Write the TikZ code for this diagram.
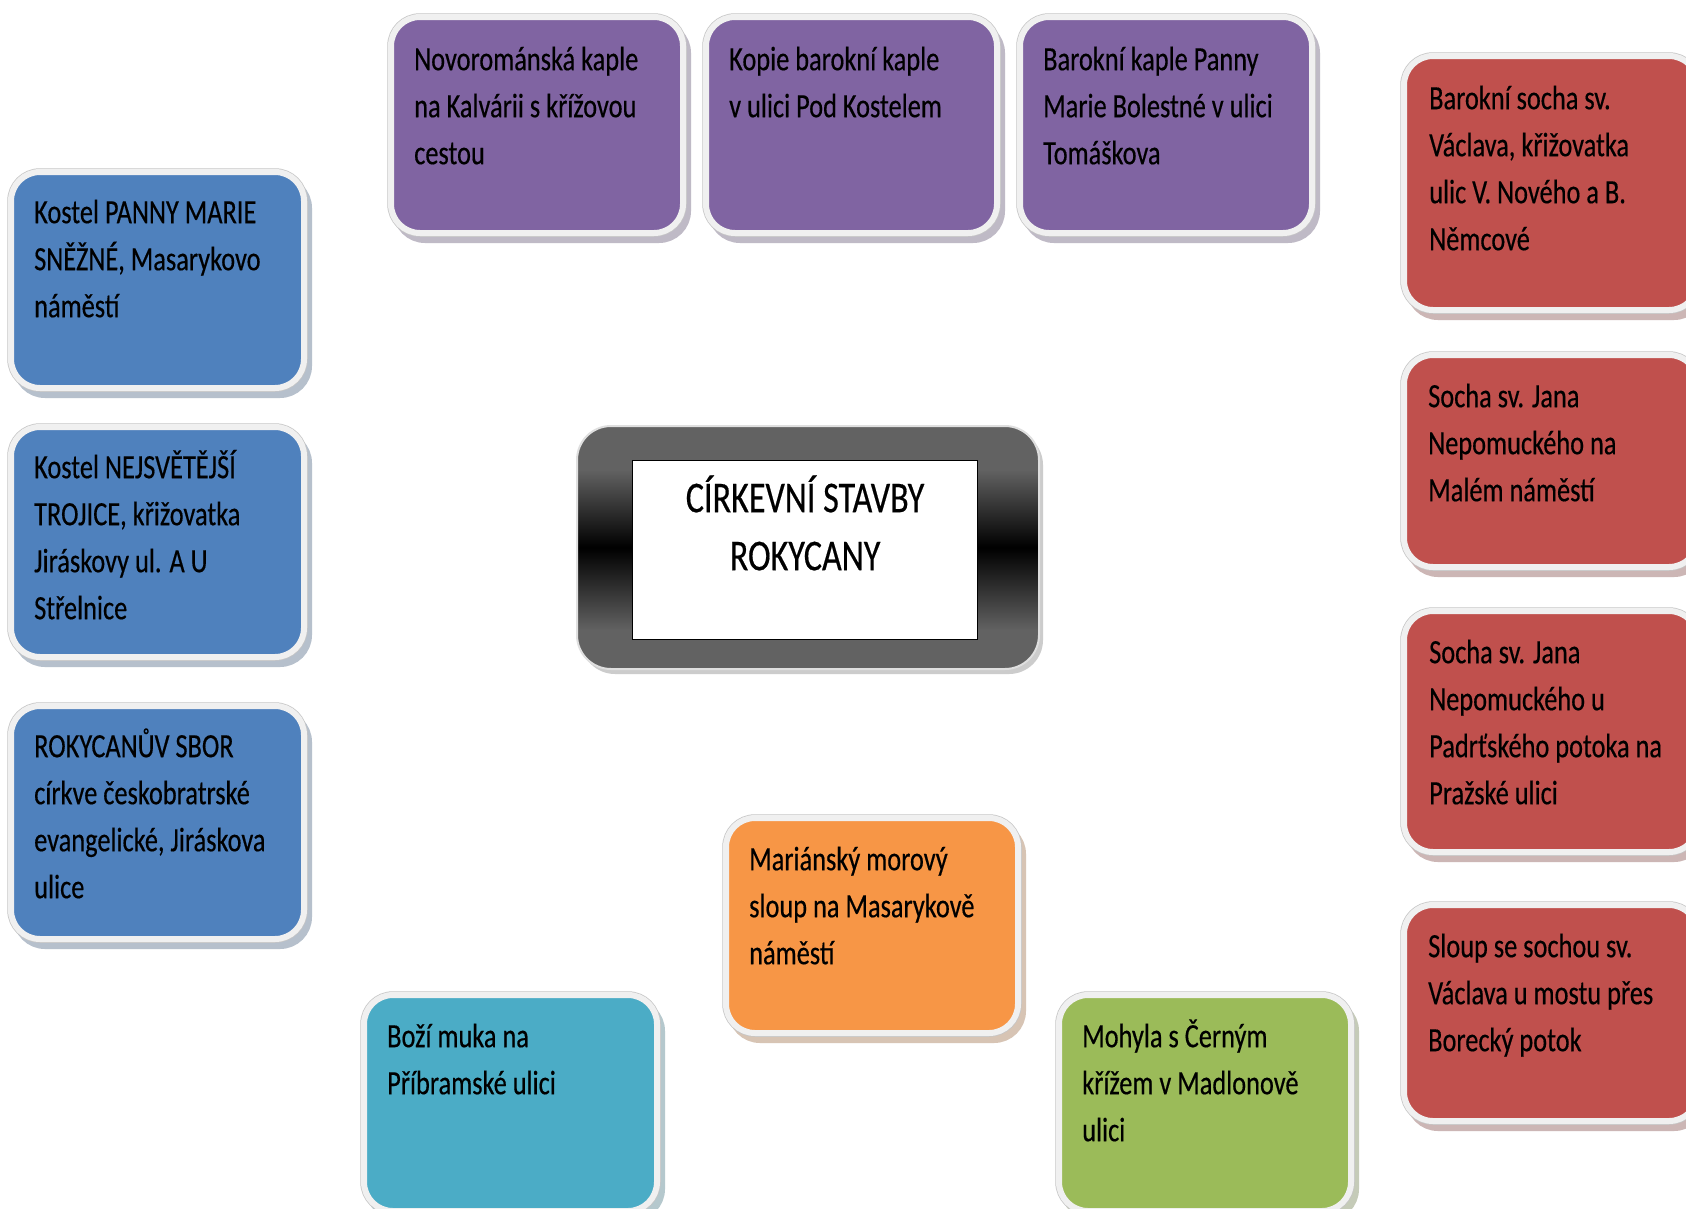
\documentclass[tikz,border=0pt]{standalone}
\usepackage{fontspec}
\setmainfont{Carlito}[FakeStretch=0.775, FakeBold=0.4]
\usetikzlibrary{calc}
\definecolor{bluec}{RGB}{79,129,189}
\definecolor{purc}{RGB}{128,100,162}
\definecolor{redc}{RGB}{192,80,77}
\definecolor{orac}{RGB}{247,150,70}
\definecolor{cyac}{RGB}{75,172,198}
\definecolor{grec}{RGB}{155,187,89}
\definecolor{ringc}{RGB}{240,240,240}
\definecolor{cg}{RGB}{98,98,98}
\pgfdeclareverticalshading{cgrad}{100bp}{color(0bp)=(cg); color(33bp)=(cg); color(50bp)=(black); color(66bp)=(cg); color(100bp)=(cg)}
\tikzset{
  boxbase/.style={rectangle, rounded corners=29pt, anchor=north west, inner sep=0pt,
    preaction={fill=#1!40!gray!50!white, draw=#1!40!gray!50!white, line width=6pt,
               transform canvas={shift={(5,7)}}},
    preaction={draw=gray!45, line width=7.5pt},
    fill=#1, draw=ringc, line width=6pt},
  txt/.style={anchor=north west, align=left, inner sep=0pt, text=black,
    font=\fontsize{34}{47}\selectfont},
  centerbox/.style={rectangle, rounded corners=34pt, anchor=north west, inner sep=0pt,
    preaction={fill=gray!40, transform canvas={shift={(4,5)}}},
    shade, shading=cgrad, draw=gray!25, line width=2pt},
  titlebox/.style={rectangle, anchor=north west, inner sep=0pt, fill=white, draw=black, line width=1.2pt},
  ctxt/.style={anchor=north, align=center, inner sep=0pt, text=black,
    font=\fontsize{44}{58}\selectfont}
}
\begin{document}
\begin{tikzpicture}[x=1pt,y=-1pt]
\useasboundingbox (0,0) rectangle (1686,1208);
\clip (0,0) rectangle (1686,1208);
\fill[white] (0,0) rectangle (1686,1208);

% centre
\node[centerbox, minimum width=462pt, minimum height=243pt] (ctr) at (576,425) {};
\node[titlebox, minimum width=345pt, minimum height=179pt] (ctitle) at (632,460) {};
\node[ctxt] (ctitletext) at ($(ctitle.north)+(0,14)$) {\rule{0pt}{38pt}CÍRKEVNÍ STAVBY\\ROKYCANY};

% blue column
\node[boxbase=bluec, minimum width=293pt, minimum height=216pt] (b1) at (8,169) {};
\node[txt] (b1t) at ($(b1.north west)+(26,23)$) {\rule{0pt}{31pt}Kostel PANNY MARIE\\SNĚŽNÉ, Masarykovo\\náměstí};
\node[boxbase=bluec, minimum width=293pt, minimum height=230pt] (b2) at (8,424) {};
\node[txt] (b2t) at ($(b2.north west)+(26,23)$) {\rule{0pt}{31pt}Kostel NEJSVĚTĚJŠÍ\\TROJICE, křižovatka\\Jiráskovy ul. A U\\Střelnice};
\node[boxbase=bluec, minimum width=293pt, minimum height=233pt] (b3) at (8,703) {};
\node[txt] (b3t) at ($(b3.north west)+(26,23)$) {\rule{0pt}{31pt}ROKYCANŮV SBOR\\církve českobratrské\\evangelické, Jiráskova\\ulice};

% purple row
\node[boxbase=purc, minimum width=292pt, minimum height=216pt] (p1) at (388,14) {};
\node[txt] (p1t) at ($(p1.north west)+(26,25)$) {\rule{0pt}{31pt}Novorománská kaple\\na Kalvárii s křížovou\\cestou};
\node[boxbase=purc, minimum width=291pt, minimum height=216pt] (p2) at (703,14) {};
\node[txt] (p2t) at ($(p2.north west)+(26,25)$) {\rule{0pt}{31pt}Kopie barokní kaple\\v ulici Pod Kostelem};
\node[boxbase=purc, minimum width=292pt, minimum height=216pt] (p3) at (1017,14) {};
\node[txt] (p3t) at ($(p3.north west)+(26,25)$) {\rule{0pt}{31pt}Barokní kaple Panny\\Marie Bolestné v ulici\\Tomáškova};

% red column
\node[boxbase=redc, minimum width=294pt, minimum height=254pt] (r1) at (1401,53) {};
\node[txt] (r1t) at ($(r1.north west)+(28,25)$) {\rule{0pt}{31pt}Barokní socha sv.\\Václava, křižovatka\\ulic V. Nového a B.\\Němcové};
\node[boxbase=redc, minimum width=294pt, minimum height=212pt] (r2) at (1401,352) {};
\node[txt] (r2t) at ($(r2.north west)+(27,24)$) {\rule{0pt}{31pt}Socha sv. Jana\\Nepomuckého na\\Malém náměstí};
\node[boxbase=redc, minimum width=294pt, minimum height=241pt] (r3) at (1401,608) {};
\node[txt] (r3t) at ($(r3.north west)+(28,24)$) {\rule{0pt}{31pt}Socha sv. Jana\\Nepomuckého u\\Padrťského potoka na\\Pražské ulici};
\node[boxbase=redc, minimum width=294pt, minimum height=216pt] (r4) at (1401,902) {};
\node[txt] (r4t) at ($(r4.north west)+(27,24)$) {\rule{0pt}{31pt}Sloup se sochou sv.\\Václava u mostu přes\\Borecký potok};

% bottom
\node[boxbase=orac, minimum width=292pt, minimum height=215pt] (o1) at (723,815) {};
\node[txt] (o1t) at ($(o1.north west)+(26,24)$) {\rule{0pt}{31pt}Mariánský morový\\sloup na Masarykově\\náměstí};
\node[boxbase=cyac, minimum width=293pt, minimum height=216pt] (c1) at (361,992) {};
\node[txt] (c1t) at ($(c1.north west)+(26,24)$) {\rule{0pt}{31pt}Boží muka na\\Příbramské ulici};
\node[boxbase=grec, minimum width=292pt, minimum height=216pt] (g1) at (1056,992) {};
\node[txt] (g1t) at ($(g1.north west)+(26,24)$) {\rule{0pt}{31pt}Mohyla s Černým\\křížem v Madlonově\\ulici};
\end{tikzpicture}
\end{document}
